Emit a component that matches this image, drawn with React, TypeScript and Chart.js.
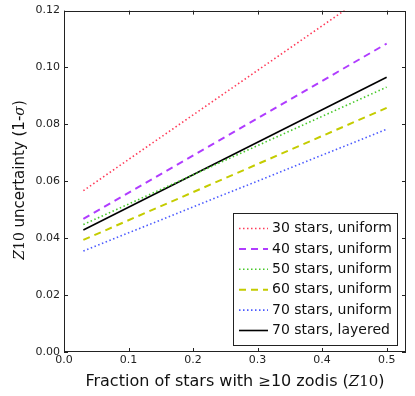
import { useEffect, useRef } from "react";
import { Chart, registerables } from "chart.js";

Chart.register(...registerables);

// ---- data ----
const xValues = [0.03, 0.5];
const stars30Uniform = [0.0567, 0.1303];
const stars40Uniform = [0.0468, 0.1084];
const stars50Uniform = [0.0448, 0.0931];
const stars60Uniform = [0.0394, 0.0858];
const stars70Uniform = [0.0355, 0.0783];
const stars70Layered = [0.0429, 0.0966];

const seriesLabels = [
  "30 stars, uniform",
  "40 stars, uniform",
  "50 stars, uniform",
  "60 stars, uniform",
  "70 stars, uniform",
  "70 stars, layered",
];
const xTickValues = [0, 0.1, 0.2, 0.3, 0.4, 0.5];
const yTickValues = [0, 0.02, 0.04, 0.06, 0.08, 0.1, 0.12];

const SANS = "'DejaVu Sans', sans-serif";
const SERIF = "'DejaVu Serif', serif";

type Seg = { t: string; f: string };

function drawSegs(ctx: CanvasRenderingContext2D, segs: Seg[], cx: number, cy: number) {
  let total = 0;
  const widths = segs.map((s) => {
    ctx.font = s.f;
    const w = ctx.measureText(s.t).width;
    total += w;
    return w;
  });
  let x = cx - total / 2;
  ctx.textBaseline = "middle";
  ctx.textAlign = "left";
  segs.forEach((s, i) => {
    ctx.font = s.f;
    ctx.fillText(s.t, x, cy);
    x += widths[i];
  });
}

const framePlugin = {
  id: "frameAndTitles",
  afterDatasetsDraw(chart: any) {
    const { ctx, chartArea } = chart;
    const { left, right, top, bottom } = chartArea;
    const xs = chart.scales.x;
    const ys = chart.scales.y;
    ctx.save();
    ctx.strokeStyle = "#222";
    ctx.lineWidth = 1;
    ctx.strokeRect(Math.round(left) + 0.5, Math.round(top) + 0.5, Math.round(right - left) - 1, Math.round(bottom - top) - 1);
    // inward ticks on all four sides
    const tl = 4;
    ctx.beginPath();
    xTickValues.forEach((v) => {
      const px = Math.round(xs.getPixelForValue(v)) + 0.5;
      ctx.moveTo(px, bottom);
      ctx.lineTo(px, bottom - tl);
      ctx.moveTo(px, top);
      ctx.lineTo(px, top + tl);
    });
    yTickValues.forEach((v) => {
      const py = Math.round(ys.getPixelForValue(v)) + 0.5;
      ctx.moveTo(left, py);
      ctx.lineTo(left + tl, py);
      ctx.moveTo(right, py);
      ctx.lineTo(right - tl, py);
    });
    ctx.stroke();

    // axis titles
    ctx.fillStyle = "#111";
    drawSegs(
      ctx,
      [
        { t: "Fraction of stars with ", f: `16px ${SANS}` },
        { t: "\u2265", f: `15px ${SERIF}` },
        { t: "10 zodis (", f: `16px ${SANS}` },
        { t: "Z", f: `italic 15px ${SERIF}` },
        { t: "10", f: `15px ${SERIF}` },
        { t: ")", f: `16px ${SANS}` },
      ],
      (left + right) / 2,
      382
    );
    ctx.save();
    ctx.translate(20, 180);
    ctx.rotate(-Math.PI / 2);
    drawSegs(
      ctx,
      [
        { t: "Z", f: `italic 14px ${SERIF}` },
        { t: "10", f: `14px ${SERIF}` },
        { t: " uncertainty (1-", f: `15px ${SANS}` },
        { t: "\u03c3", f: `italic 14px ${SERIF}` },
        { t: ")", f: `15px ${SANS}` },
      ],
      0,
      0
    );
    ctx.restore();

    // legend
    const lx = 233;
    const ly = 213;
    const lw = 164;
    const lh = 132;
    ctx.fillStyle = "#fff";
    ctx.fillRect(lx, ly, lw, lh);
    ctx.strokeStyle = "#222";
    ctx.lineWidth = 1;
    ctx.strokeRect(lx + 0.5, ly + 0.5, lw, lh);
    chart.data.datasets.forEach((ds: any, i: number) => {
      const ry = ly + 15.5 + i * 20.4;
      ctx.beginPath();
      ctx.strokeStyle = ds.borderColor;
      ctx.lineWidth = ds.borderWidth;
      ctx.setLineDash(ds.borderDash || []);
      ctx.moveTo(239, ry);
      ctx.lineTo(268, ry);
      ctx.stroke();
      ctx.setLineDash([]);
      ctx.fillStyle = "#111";
      ctx.font = `14px ${SANS}`;
      ctx.textAlign = "left";
      ctx.textBaseline = "middle";
      ctx.fillText(ds.label, 272, ry);
    });
    ctx.restore();
  },
};

const DOT = [1.5, 2.5];
const DASH = [7, 5];

export default function App() {
  const ref = useRef<HTMLCanvasElement | null>(null);
  useEffect(() => {
    if (!ref.current) return;
    const mk = (label: string, ys: number[], color: string, dash: number[], width: number) => ({
      label,
      data: xValues.map((x, i) => ({ x, y: ys[i] })),
      borderColor: color,
      backgroundColor: color,
      borderDash: dash,
      borderWidth: width,
      pointRadius: 0,
      tension: 0,
      fill: false,
    });
    const chart = new Chart(ref.current, {
      type: "line",
      data: {
        datasets: [
          mk(seriesLabels[0], stars30Uniform, "#ff3c5a", DOT, 1.6),
          mk(seriesLabels[1], stars40Uniform, "#b03cff", DASH, 2),
          mk(seriesLabels[2], stars50Uniform, "#46c828", DOT, 1.6),
          mk(seriesLabels[3], stars60Uniform, "#c4cc00", DASH, 2),
          mk(seriesLabels[4], stars70Uniform, "#4b5aff", DOT, 1.6),
          mk(seriesLabels[5], stars70Layered, "#000000", [], 1.6),
        ],
      },
      options: {
        responsive: false,
        animation: false,
        layout: { padding: { top: 9, right: 9, left: 0, bottom: 0 } },
        plugins: {
          legend: { display: false },
          tooltip: { enabled: false },
        },
        scales: {
          x: {
            type: "linear",
            min: 0,
            max: 0.53,
            afterBuildTicks: (s: any) => {
              s.ticks = xTickValues.map((v) => ({ value: v }));
            },
            afterFit: (s: any) => {
              s.height = 44;
            },
            grid: { display: false, drawTicks: false },
            border: { display: false },
            ticks: {
              padding: 2,
              maxRotation: 0,
              autoSkip: false,
              color: "#222",
              font: { family: "DejaVu Sans", size: 11 },
              callback: (v: any) => Number(v).toFixed(1),
            },
          },
          y: {
            type: "linear",
            min: 0,
            max: 0.12,
            afterBuildTicks: (s: any) => {
              s.ticks = yTickValues.map((v) => ({ value: v }));
            },
            afterFit: (s: any) => {
              s.width = 64;
            },
            grid: { display: false, drawTicks: false },
            border: { display: false },
            ticks: {
              padding: 4,
              autoSkip: false,
              color: "#222",
              font: { family: "DejaVu Sans", size: 11 },
              callback: (v: any) => Number(v).toFixed(2),
            },
          },
        },
      },
      plugins: [framePlugin],
    });
    return () => chart.destroy();
  }, []);
  return (
    <div style={{ position: "absolute", left: 0, top: 0, width: 415, height: 396, background: "#fff" }}>
      <canvas ref={ref} width={415} height={396} style={{ display: "block" }} />
    </div>
  );
}
